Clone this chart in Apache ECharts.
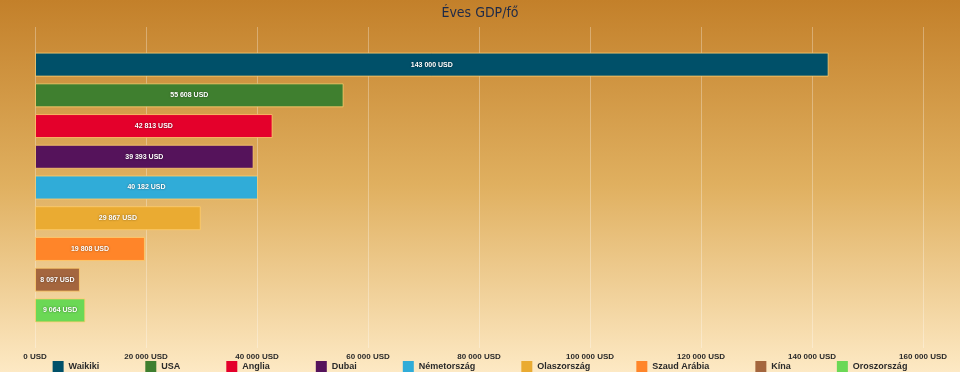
<!DOCTYPE html>
<html><head><meta charset="utf-8">
<script src="https://cdn.jsdelivr.net/npm/echarts@6/dist/echarts.min.js"></script>
<style>html,body{margin:0;padding:0;}#c{width:960px;height:372px;}</style>
</head><body><div id="c"></div>
<script>
const names = ['Waikiki','USA','Anglia','Dubai','Németország','Olaszország','Szaud Arábia','Kína','Oroszország'];
const values = [143000, 55608, 42813, 39393, 40182, 29867, 19808, 8097, 9064];
const colors = ['#005069','#3f7f2f','#e4002b','#55135b','#30acd8','#eaab32','#ff8529','#a4663e','#6bd855'];
const category = ['GDP'];
const xTicks = [0, 20000, 40000, 60000, 80000, 100000, 120000, 140000, 160000];

function fmt(v){ return String(Math.round(v)).replace(/\B(?=(\d{3})+(?!\d))/g,' ') + ' USD'; }
const SANS = '"Liberation Sans", Arial, sans-serif';

const chart = echarts.init(document.getElementById('c'));
chart.setOption({
  animation:false,
  backgroundColor: new echarts.graphic.LinearGradient(0,0,0,1,[
    {offset:0,color:'#c3802a'},{offset:0.5,color:'#e0b060'},{offset:1,color:'#fde9c4'}]),
  title:{text:'Éves GDP/fő', left:'center', top:1,
    textStyle:{fontFamily:'DejaVu Sans Condensed', fontSize:14, fontWeight:'normal', color:'#1e2a48'}},
  legend:{bottom:-5, left:'center', itemWidth:11, itemHeight:11, itemGap:46, icon:'rect',
    itemStyle:{borderWidth:0},
    textStyle:{fontFamily:SANS, fontSize:9, fontWeight:'bold', color:'#2a2a2a'},
    data:names},
  grid:{left:35, right:37, top:27, bottom:24},
  xAxis:{type:'value', min:xTicks[0], max:xTicks[xTicks.length-1], interval:xTicks[1]-xTicks[0],
    axisLine:{show:false}, axisTick:{show:false},
    axisLabel:{fontFamily:SANS, fontSize:8, fontWeight:'bold', color:'#2a2a2a', margin:5,
      formatter:v=>fmt(v)},
    splitLine:{lineStyle:{color:'rgba(255,255,255,0.3)', width:1}}},
  yAxis:{type:'category', data:category, inverse:true, show:false},
  series: names.map((n,i)=>({
    name:n, type:'bar', barWidth:24, barGap:'28%',
    data:[values[i]],
    itemStyle:{color:colors[i], borderColor:'rgba(255,205,110,0.8)', borderWidth:1},
    label:{show:true, position:'inside', formatter:p=>fmt(p.value),
      fontFamily:SANS, fontSize:7, fontWeight:'bold', color:'#fff',
      textShadowColor:'rgba(0,0,0,0.5)', textShadowBlur:2}
  }))
});
</script></body></html>
